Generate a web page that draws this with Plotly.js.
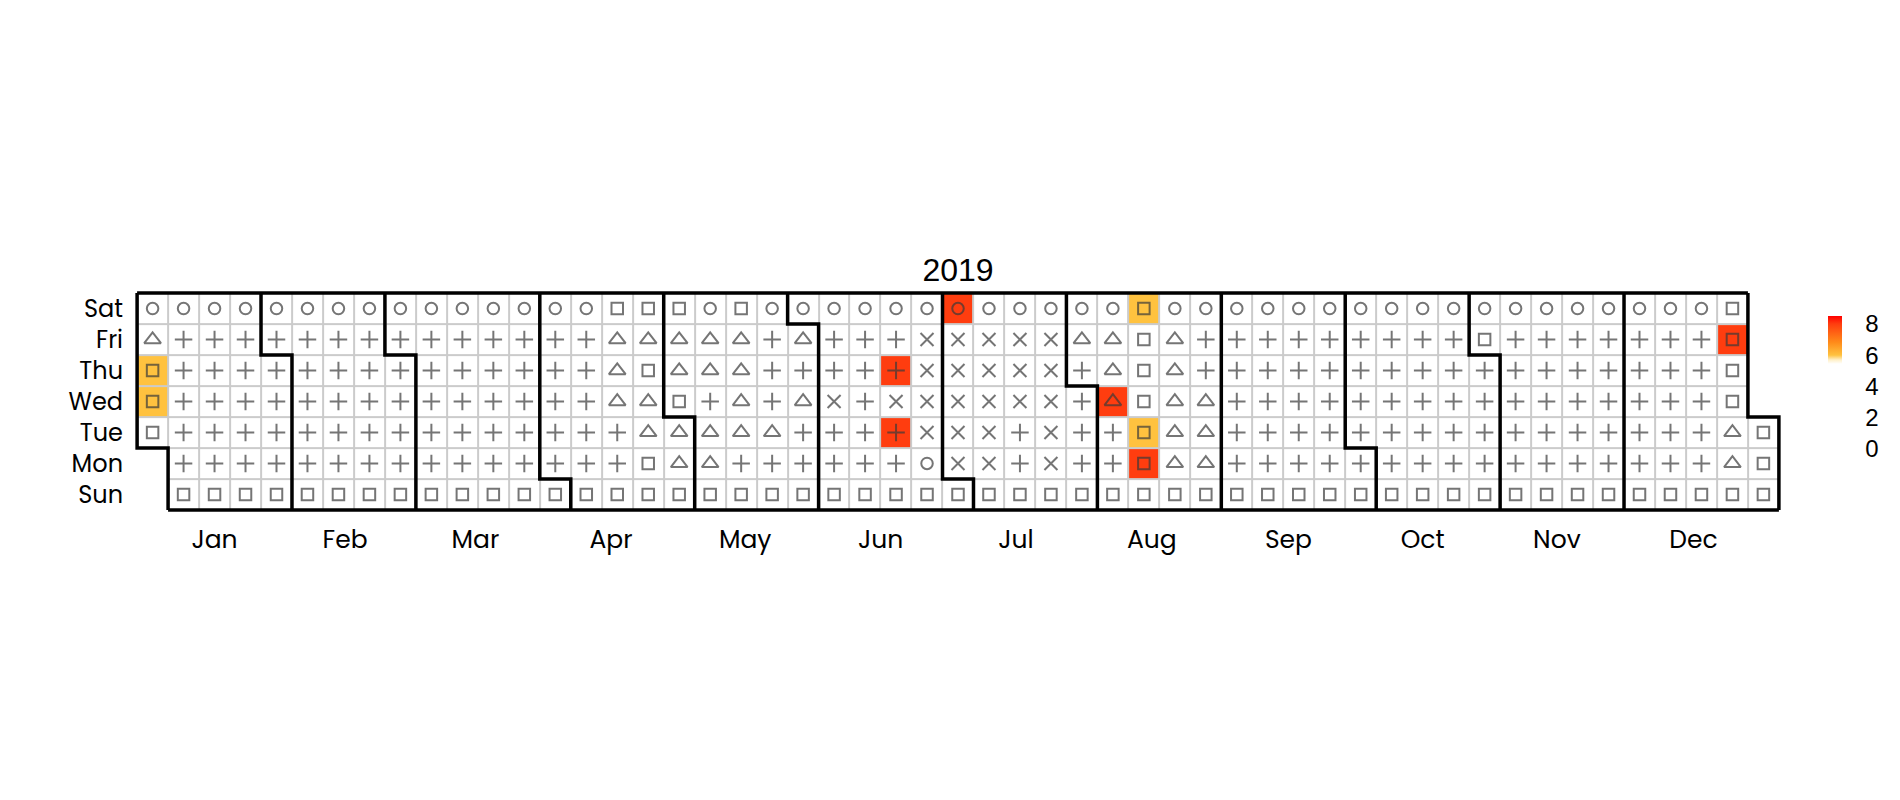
<!DOCTYPE html>
<html><head><meta charset="utf-8">
<script src="https://cdn.plot.ly/plotly-3.0.1.min.js"></script>
<style>html,body{margin:0;padding:0;background:#fff}#chart{width:1900px;height:800px}</style>
</head><body><div id="chart"></div>
<script>
const year = 2019;
const monthLabels = ['Jan','Feb','Mar','Apr','May','Jun','Jul','Aug','Sep','Oct','Nov','Dec'];
const dayLabels = ['Sun','Mon','Tue','Wed','Thu','Fri','Sat'];
// day-by-day category glyphs, weeks separated by spaces (o circle, t triangle, p plus, x cross, s square)
const janSymbols = "sssto spppppo spppppo spppppo spppp";
const febSymbols = "po spppppo spppppo spppppo spppp";
const marSymbols = "po spppppo spppppo spppppo spppppo s";
const aprSymbols = "pppppo spppppo sppttts ssttsts stt";
const maySymbols = "stts sttptto sptttts sptpppo spptpt";
const junSymbols = "o sppxppo spppppo sppxppo soxxxxo s";
const julSymbols = "xxxxxo sxxxxxo sppxxxo sxxxxxo sppp";
const augSymbols = "pto sppttto sssssss sttttto stttppo";
const sepSymbols = "spppppo spppppo spppppo spppppo sp";
const octSymbols = "ppppo spppppo spppppo spppppo spppp";
const novSymbols = "so spppppo spppppo spppppo spppppo";
const decSymbols = "spppppo spppppo spppppo sttssss sss";
// days with a visible colour value (all other days read as 0)
const hotDates  = ['2019-01-02','2019-01-03','2019-06-18','2019-06-20','2019-07-06','2019-08-07','2019-08-12','2019-08-13','2019-08-17','2019-12-27'];
const hotValues = [6, 6, 8, 8, 8, 8, 8, 6, 6, 8];
const colorTicks = [0, 2, 4, 6, 8];

const monthSymbols = [janSymbols,febSymbols,marSymbols,aprSymbols,maySymbols,junSymbols,julSymbols,augSymbols,sepSymbols,octSymbols,novSymbols,decSymbols];
const symbolStyle = {
  o: {symbol: 'circle-open', size: 11.5},
  t: {symbol: 'triangle-up-open', size: 14.5},
  p: {symbol: 'cross-thin-open', size: 12.5},
  x: {symbol: 'x-thin-open', size: 13},
  s: {symbol: 'square-open', size: 11.5}
};
const DAY = 864e5;
const t0 = Date.UTC(year, 0, 1);
const dow0 = new Date(t0).getUTCDay();
function pos(ms) {
  const doy = Math.round((ms - t0) / DAY);
  return {col: Math.floor((doy + dow0) / 7), row: (doy + dow0) % 7};
}
const nCols = pos(Date.UTC(year, 11, 31)).col + 1;
const zVal = [], zGrid = [];
for (let r = 0; r < 7; r++) { zVal.push(new Array(nCols).fill(null)); zGrid.push(new Array(nCols).fill(null)); }
const hot = {};
hotDates.forEach((d, i) => hot[d] = hotValues[i]);
const mx = [], my = [], msym = [], msize = [];
const tickVals = [];
monthSymbols.forEach((str, m) => {
  const codes = str.replace(/ /g, '');
  let sum = 0;
  for (let d = 0; d < codes.length; d++) {
    const ms = Date.UTC(year, m, d + 1);
    const p = pos(ms);
    const key = new Date(ms).toISOString().slice(0, 10);
    zVal[p.row][p.col] = (key in hot) ? hot[key] : 0;
    zGrid[p.row][p.col] = 1;
    const st = symbolStyle[codes[d]];
    mx.push(p.col); my.push(p.row); msym.push(st.symbol); msize.push(st.size);
    sum += p.col;
  }
  tickVals.push(sum / codes.length);
});
// month boundary lines
const bx = [], by = [];
for (let m = 1; m <= 12; m++) {
  const p = pos(Date.UTC(year, m, 1));
  const k = p.col, r = p.row;
  if (r === 0) { bx.push(k - 0.5, k - 0.5, null); by.push(6.5, -0.5, null); }
  else { bx.push(k - 0.5, k - 0.5, k + 0.5, k + 0.5, null); by.push(6.5, r - 0.5, r - 0.5, -0.5, null); }
}
const pStart = pos(t0);
bx.push(-0.5, -0.5, 0.5, 0.5, null); by.push(6.5, pStart.row - 0.5, pStart.row - 0.5, -0.5, null);
const pEnd = pos(Date.UTC(year + 1, 0, 1));
bx.push(-0.5, pEnd.col - 0.5, null); by.push(6.5, 6.5, null);
bx.push(0.5, pEnd.col + 0.5, null); by.push(-0.5, -0.5, null);

const traces = [
  {type: 'heatmap', z: zGrid, colorscale: [[0, '#cbcbcb'], [1, '#cbcbcb']], showscale: false, hoverinfo: 'skip'},
  {type: 'heatmap', z: zVal, xgap: 2, ygap: 2, zmin: 0, zmax: 8.5, hoverinfo: 'skip',
   colorscale: [[0, '#ffffff'], [0.64, '#ffffff'], [0.67, '#fff0c8'], [0.706, '#ffc23f'], [0.8, '#ff8c1a'], [0.941, '#ff3d0f'], [1, '#ff0000']],
   colorbar: {x: 1.0279, xanchor: 'left', xpad: 0, y: 0.8834, yanchor: 'top', ypad: 0, len: 133, lenmode: 'pixels',
     thickness: 14, outlinewidth: 0, tickvals: colorTicks, ticks: 'outside', ticklen: 19, tickcolor: 'rgba(0,0,0,0)',
     tickfont: {family: 'Liberation Sans, Arial, sans-serif', size: 24, color: '#000'}}},
  {type: 'scatter', mode: 'markers', x: mx, y: my, hoverinfo: 'skip',
   marker: {symbol: msym, size: msize, color: '#3a3a3a', line: {color: '#3a3a3a', width: 2}}},
  {type: 'scatter', mode: 'lines', x: bx, y: by, hoverinfo: 'skip', line: {color: '#000', width: 3.5}, connectgaps: false}
];
const layout = {
  width: 1900, height: 800,
  margin: {l: 134, r: 118, t: 290, b: 287, autoexpand: false},
  paper_bgcolor: '#fff', plot_bgcolor: '#fff',
  showlegend: false,
  title: {text: String(year), x: 0.5, xanchor: 'center', xref: 'paper', y: 1, yref: 'paper', yanchor: 'bottom', pad: {b: 9},
    font: {family: 'Liberation Sans, Arial, sans-serif', size: 32, color: '#000'}},
  xaxis: {range: [-0.6, nCols - 0.4], showgrid: false, zeroline: false, showline: false, ticks: '',
    tickvals: tickVals, ticktext: monthLabels, ticklabelstandoff: 9,
    tickfont: {family: 'Poppins, Lato, sans-serif', size: 25, color: '#000'}, fixedrange: true},
  yaxis: {range: [-0.6, 6.6], showgrid: false, zeroline: false, showline: false, ticks: '',
    tickvals: [0, 1, 2, 3, 4, 5, 6], ticktext: dayLabels, ticklabelstandoff: 10,
    tickfont: {family: 'Poppins, Lato, sans-serif', size: 24, color: '#000'}, fixedrange: true}
};
Plotly.newPlot('chart', traces, layout, {displayModeBar: false, staticPlot: true});
</script>
</body></html>
